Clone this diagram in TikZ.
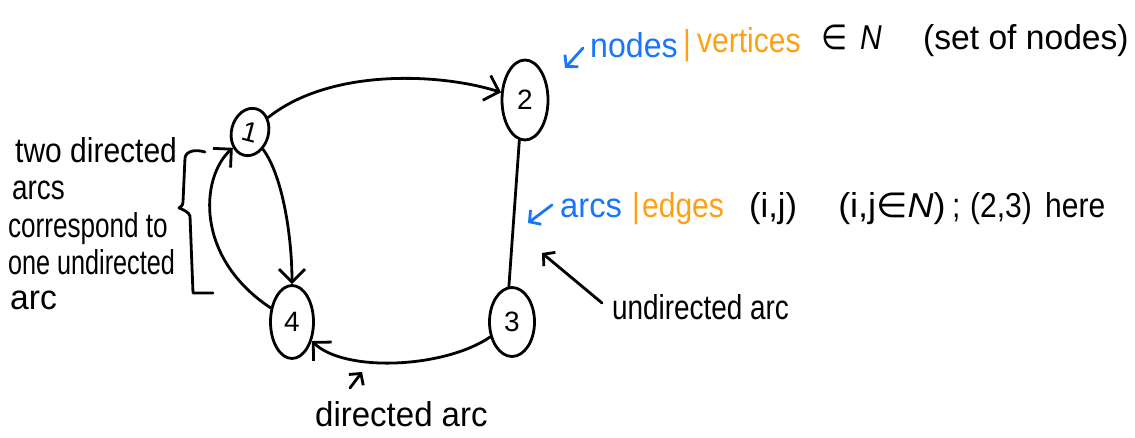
\documentclass[tikz,border=0pt]{standalone}
\usepackage{fontspec}
\setmainfont{Liberation Sans}
\newfontfamily\symfont{DejaVu Sans}
\usetikzlibrary{arrows.meta,shapes.geometric}
\definecolor{hblue}{RGB}{25,118,250}
\definecolor{horange}{RGB}{255,160,20}
\begin{document}
\begin{tikzpicture}[x=1pt,y=1pt,
  ink/.style={line width=2.8pt, line cap=round, line join=round},
  vert/.style={ellipse, draw, ink, inner sep=0pt, font=\fontsize{28}{28}\selectfont},
  bigarr/.style={ink, -{Straight Barb[length=13pt,width=26pt]}},
  smallarr/.style={ink, -{Straight Barb[length=8pt,width=18pt]}},
  lbl/.style={anchor=base west, inner sep=0pt, yscale=1.15, font=\fontsize{30}{30}\selectfont},
]
\useasboundingbox (0,0) rectangle (1135,438);

% vertices
\node[vert, minimum width=37pt, minimum height=48pt, rotate=-15] (n1) at (250,306) {1};
\node[vert, minimum width=46pt, minimum height=80pt] (n2) at (525,338) {2};
\node[vert, minimum width=45pt, minimum height=69pt] (n3) at (512,116) {3};
\node[vert, minimum width=43pt, minimum height=73pt] (n4) at (292,116) {4};

% arcs
\draw[bigarr] (n1) .. controls (330,370) and (440,365) .. (n2);
\draw[ink] (n2.262) -- (n3.95);
\draw[bigarr] (n3) .. controls (445,70) and (345,65) .. (n4);
\draw[bigarr] (n1) .. controls (283,262) and (292,200) .. (n4);
\draw[bigarr] (n4) .. controls (195,180) and (200,260) .. (n1);

% brace
\draw[ink] (205,286) .. controls (195,289) and (186,287) .. (185,280) -- (183,236)
  .. controls (183,232) and (180,231) .. (179,230)
  .. controls (182,229) and (189,226) .. (190,222) -- (193,145) -- (213,145);

% left labels
\node[lbl] (l1) at (15,275) {two directed};
\node[lbl, xscale=0.93] (l2) at (12,238) {arcs};
\node[lbl, xscale=0.87] (l3) at (8,200) {correspond to};
\node[lbl, xscale=0.84] (l4) at (8,163) {one undirected};
\node[lbl, xscale=1.12] (l5) at (10,128) {arc};

% top annotation
\coordinate (ta1) at (583,390);
\coordinate (ta2) at (565,370);
\draw[smallarr, hblue] (ta1) -- (ta2);
\node[lbl, text=hblue, xscale=1.07] (tn) at (590,380) {nodes};
\node[lbl, text=horange] (tbar) at (683,383) {|};
\node[lbl, text=horange] (tv) at (697,385) {vertices};
\node[lbl] (tin) at (821,388) {\symfont ∈};
\node[lbl] (tN) at (860,388) {\textit{N}};
\node[lbl, xscale=1.12] (tset) at (923,388) {(set of nodes)};

% middle annotation
\coordinate (ma1) at (552,233);
\coordinate (ma2) at (528,215);
\draw[smallarr, hblue] (ma1) -- (ma2);
\node[lbl, text=hblue, xscale=1.09] (ma) at (560,220) {arcs};
\node[lbl, text=horange] (mbar) at (632,220) {|};
\node[lbl, text=horange] (me) at (642,220) {edges};
\node[lbl, xscale=1.15] (mij) at (749,220) {(i,j)};
\node[lbl, xscale=1.2] (mijn) at (838,220) {(i,j{\symfont ∈}\textit{N})};
\node[lbl] (msc) at (952,220) {;};
\node[lbl] (m23) at (970,220) {(2,3)};
\node[lbl] (mh) at (1045,220) {here};

% undirected arc label
\coordinate (ua1) at (602,135);
\coordinate (ua2) at (542,185);
\draw[smallarr] (ua1) -- (ua2);
\node[lbl, xscale=0.93] (ul) at (612,118) {undirected arc};

% directed arc label
\coordinate (da1) at (350,50);
\coordinate (da2) at (362,66);
\draw[smallarr] (da1) -- (da2);
\node[lbl, xscale=1.1] (dl) at (315,11) {directed arc};
\end{tikzpicture}
\end{document}
